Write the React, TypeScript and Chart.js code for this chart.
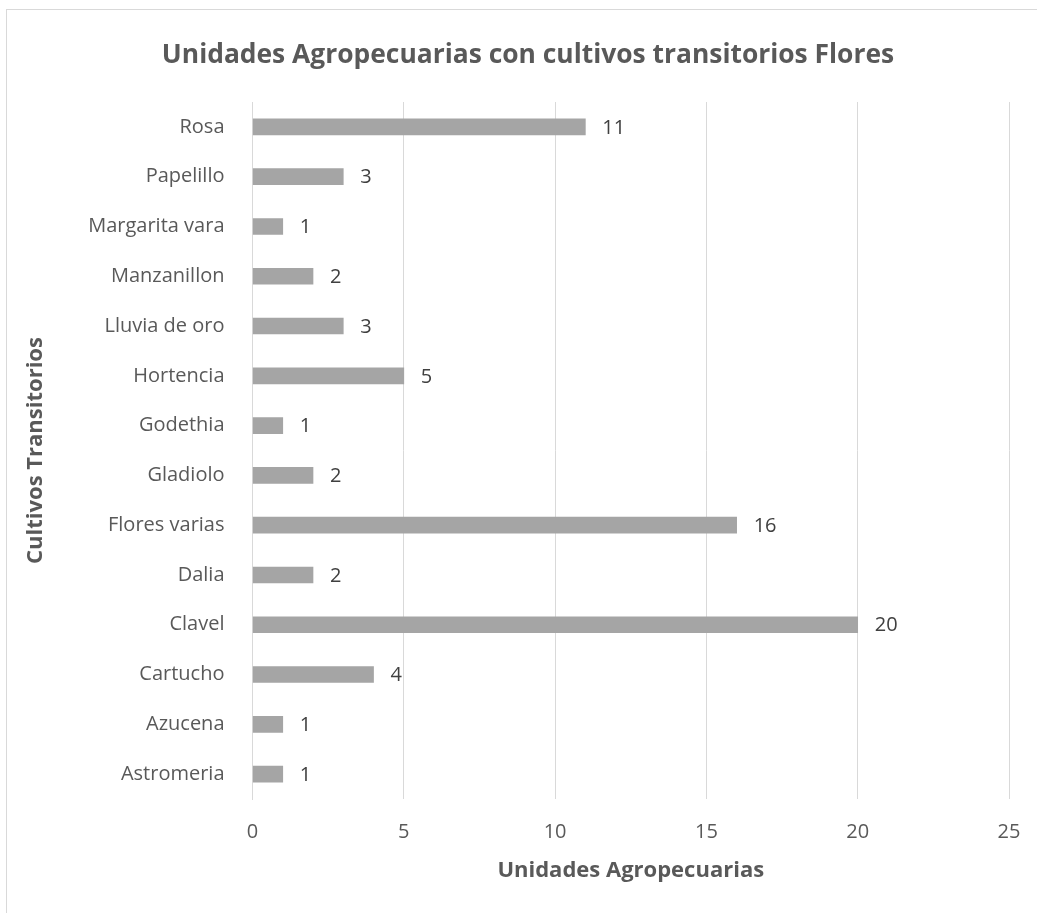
import React, { useEffect, useRef } from "react";
import { Chart, registerables } from "chart.js";

Chart.register(...registerables);

const categories = [
  "Rosa",
  "Papelillo",
  "Margarita vara",
  "Manzanillon",
  "Lluvia de oro",
  "Hortencia",
  "Godethia",
  "Gladiolo",
  "Flores varias",
  "Dalia",
  "Clavel",
  "Cartucho",
  "Azucena",
  "Astromeria",
];
const values = [11, 3, 1, 2, 3, 5, 1, 2, 16, 2, 20, 4, 1, 1];
const titleText = "Unidades Agropecuarias con cultivos transitorios Flores";
const xTitle = "Unidades Agropecuarias";
const yTitle = "Cultivos Transitorios";

const FONT = "'Open Sans', 'DejaVu Sans', sans-serif";

const dataLabels = {
  id: "dataLabels",
  afterDatasetsDraw(chart: any) {
    const ctx = chart.ctx;
    const meta = chart.getDatasetMeta(0);
    ctx.save();
    ctx.font = `20px ${FONT}`;
    ctx.fillStyle = "#404040";
    ctx.textAlign = "left";
    ctx.textBaseline = "middle";
    meta.data.forEach((bar: any, i: number) => {
      ctx.fillText(String(chart.data.datasets[0].data[i]), bar.x + 17, bar.y + 1);
    });
    ctx.restore();
  },
};

const frame = {
  id: "frame",
  beforeDraw(chart: any) {
    const ctx = chart.ctx;
    ctx.save();
    ctx.fillStyle = "#ffffff";
    ctx.fillRect(0, 0, chart.width, chart.height);
    ctx.strokeStyle = "#D9D9D9";
    ctx.lineWidth = 1;
    ctx.strokeRect(6.5, 9.5, chart.width + 10, chart.height + 10);
    ctx.restore();
  },
  afterDraw(chart: any) {
    const ctx = chart.ctx;
    ctx.save();
    ctx.font = `bold 26.4px ${FONT}`;
    ctx.fillStyle = "#595959";
    ctx.textAlign = "center";
    ctx.textBaseline = "middle";
    ctx.fillText(titleText, 528, 55);
    ctx.restore();
  },
};

export default function App() {
  const ref = useRef<HTMLCanvasElement | null>(null);
  useEffect(() => {
    if (!ref.current) return;
    const chart = new Chart(ref.current, {
      type: "bar",
      data: {
        labels: categories,
        datasets: [
          {
            data: values,
            backgroundColor: "#A5A5A5",
            barThickness: 16,
          },
        ],
      },
      options: {
        indexAxis: "y",
        animation: false,
        responsive: false,
        maintainAspectRatio: false,
        layout: { padding: { left: 0, right: 28, top: 102, bottom: 0 } },
        plugins: {
          legend: { display: false },
          tooltip: { enabled: false },
          title: { display: false },
        },
        scales: {
          x: {
            min: 0,
            max: 25,
            ticks: {
              stepSize: 5,
              color: "#595959",
              font: { family: FONT, size: 20 },
              padding: 21,
            },
            grid: { color: "#D9D9D9", drawTicks: false },
            border: { display: false },
            title: {
              display: true,
              text: xTitle,
              color: "#595959",
              font: { family: FONT, size: 22, weight: "bold" },
              padding: { top: 0, bottom: 28.8 },
            },
            afterFit(scale: any) {
              scale.height = 114;
              scale.paddingLeft = 0;
              scale.paddingRight = 0;
            },
          },
          y: {
            ticks: {
              color: "#595959",
              font: { family: FONT, size: 20 },
              padding: 28,
            },
            grid: { display: false, drawTicks: false },
            border: { display: true, color: "#D9D9D9" },
            title: {
              display: true,
              text: yTitle,
              color: "#595959",
              font: { family: FONT, size: 22, weight: "bold" },
              padding: { top: 22.8, bottom: 0 },
            },
            afterFit(scale: any) {
              scale.width = 252.5;
            },
          },
        },
      },
      plugins: [frame, dataLabels],
    } as any);
    return () => chart.destroy();
  }, []);
  return (
    <div style={{ position: "absolute", left: 0, top: 0, width: 1037, height: 913 }}>
      <canvas ref={ref} width={1037} height={913} style={{ display: "block" }} />
    </div>
  );
}
